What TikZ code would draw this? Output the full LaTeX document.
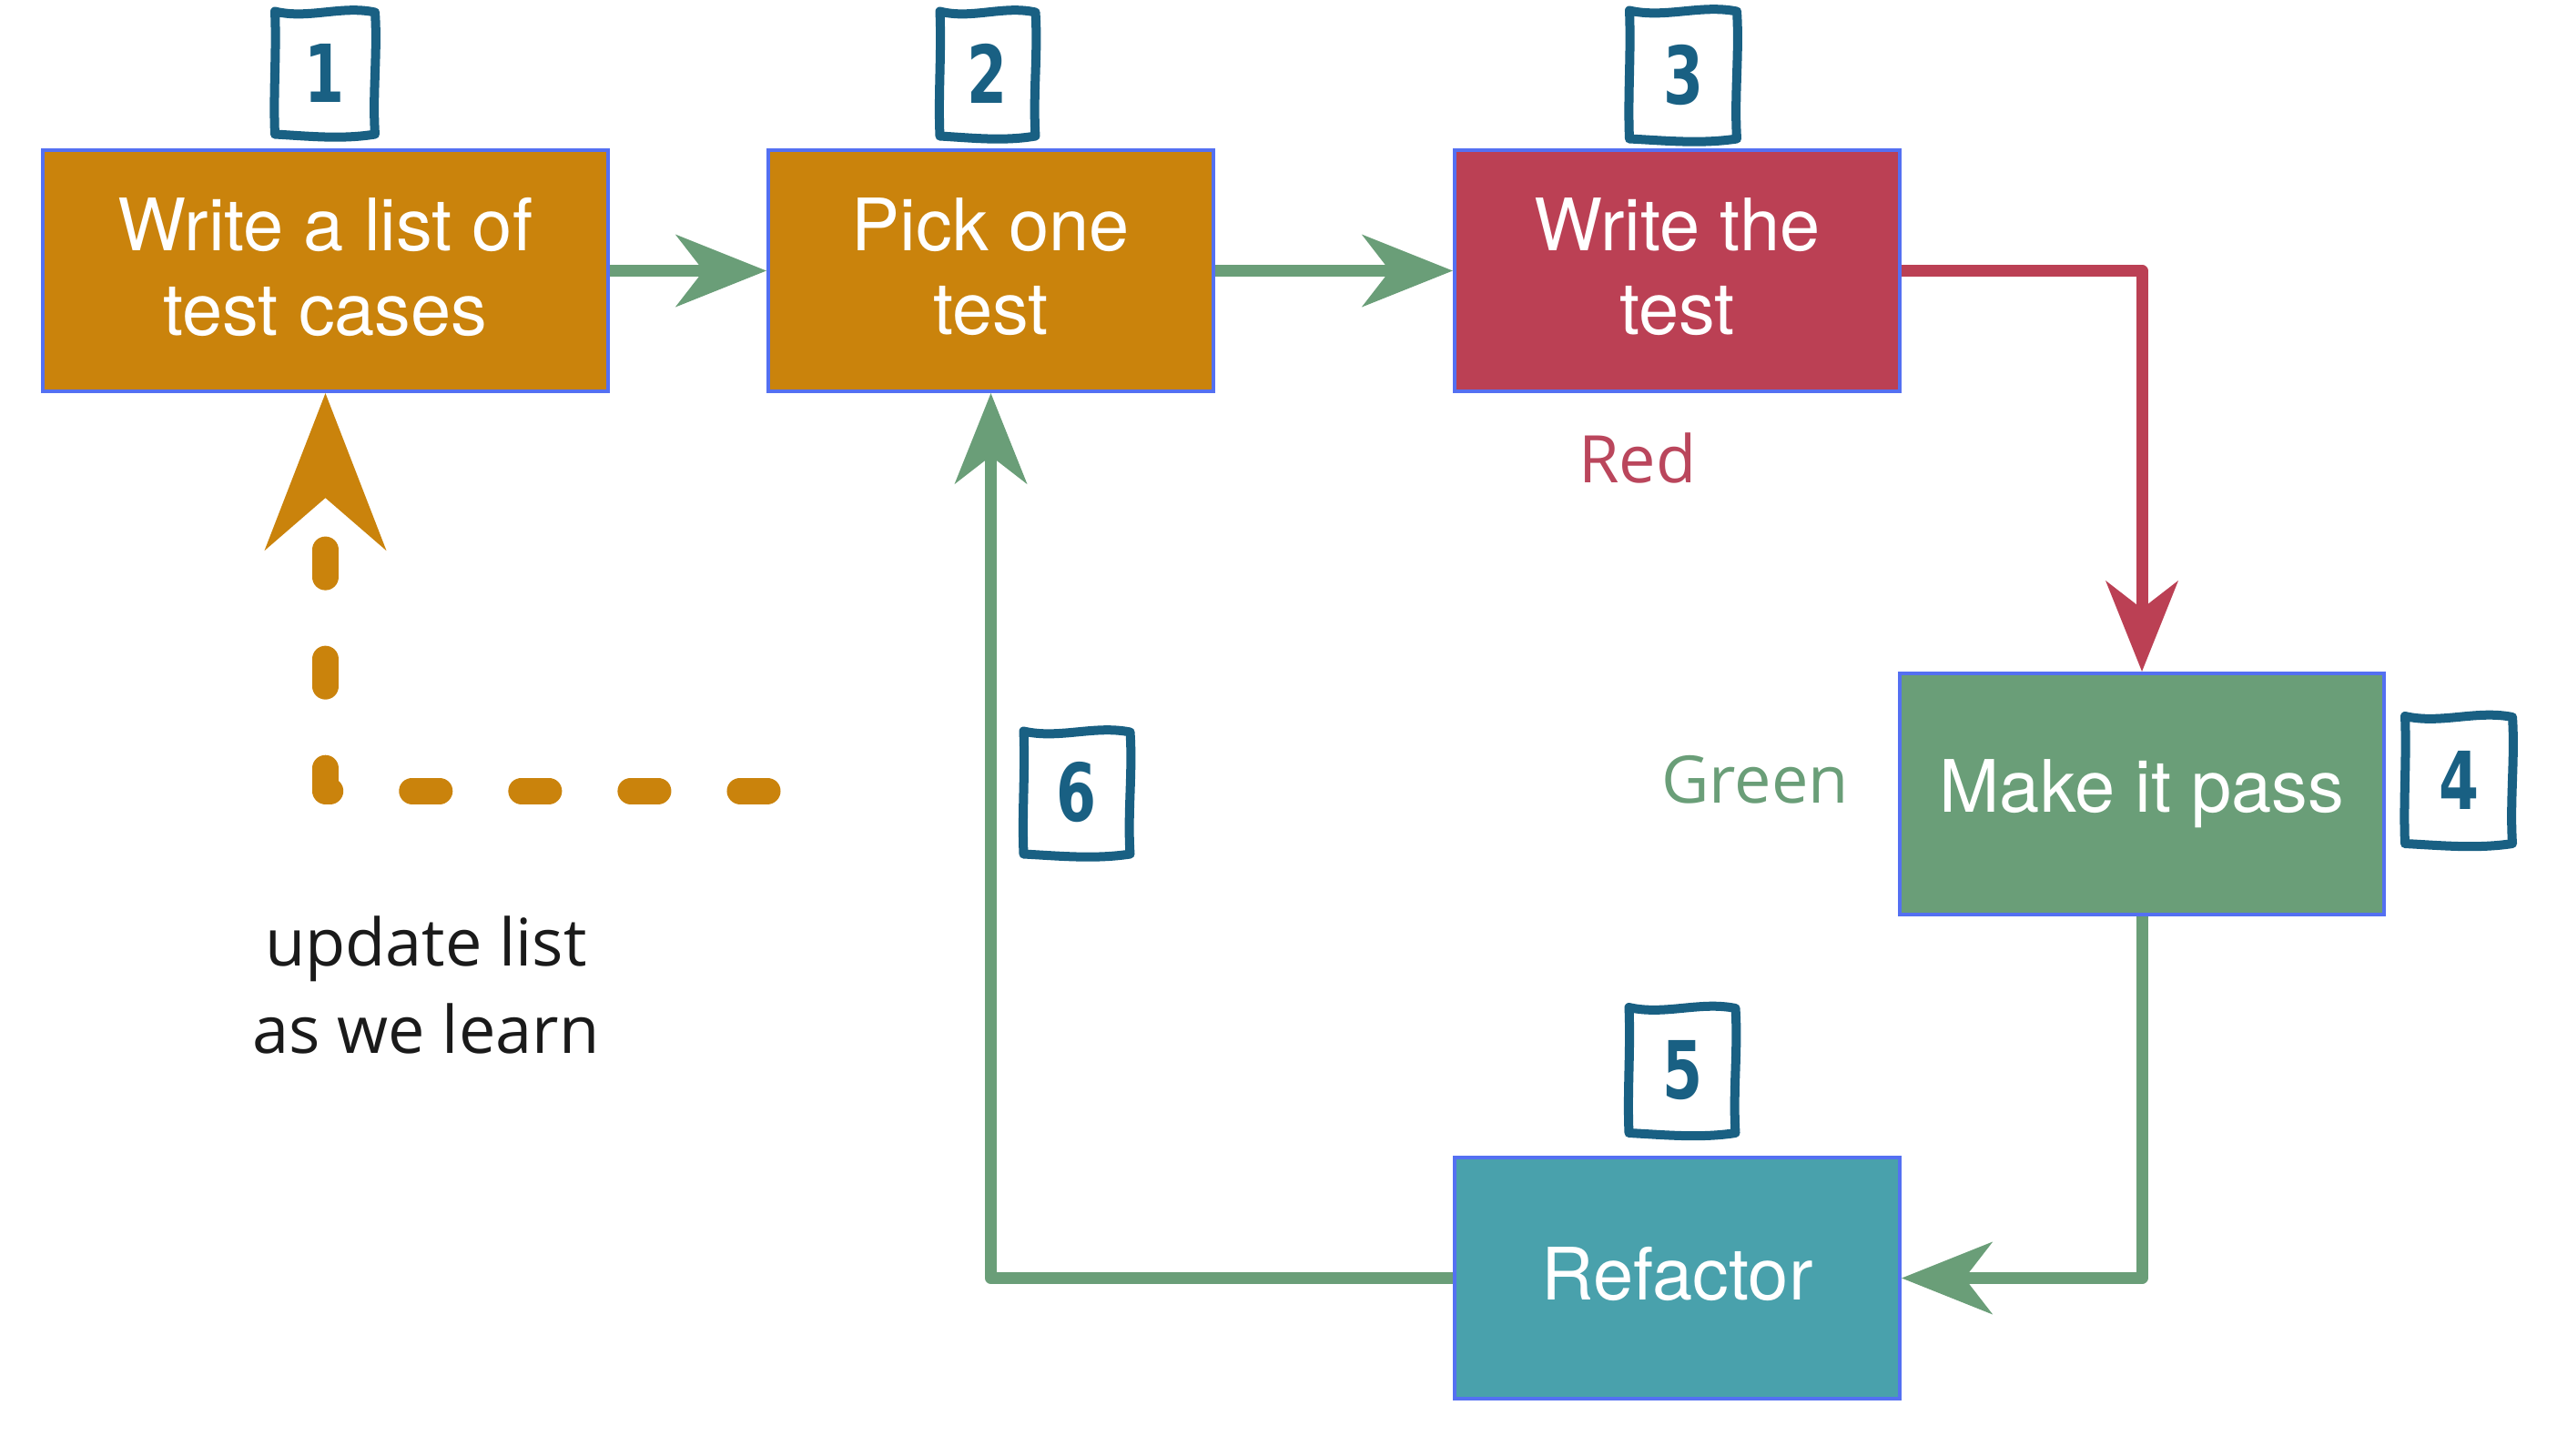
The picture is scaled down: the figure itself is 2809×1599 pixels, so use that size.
\documentclass[tikz,border=0pt]{standalone}
\usepackage{fontspec}
\setmainfont{TeX Gyre Heros}
\newfontfamily\notefont{Open Sans}
\newfontfamily\digitfont{DejaVu Sans}[FakeStretch=0.72]
\usetikzlibrary{arrows.meta}

\definecolor{steporange}{RGB}{202,131,12}
\definecolor{stepred}{RGB}{187,64,84}
\definecolor{stepgreen}{RGB}{106,158,120}
\definecolor{stepteal}{RGB}{73,161,172}
\definecolor{edgeblue}{RGB}{84,112,242}
\definecolor{badgeblue}{RGB}{25,96,131}
\definecolor{notered}{RGB}{186,70,92}
\definecolor{notegreen}{RGB}{106,158,120}
\definecolor{noteblack}{RGB}{26,26,26}

% hand-drawn frame around a step number; #1 = half width, #2 = half height
\tikzset{
  pics/badgeframe/.style 2 args={code={
    \draw[badgeline]
      (-#1,-#2) .. controls (-#1/3,-#2+9) and (#1/3,-#2-7) .. (#1,-#2+1)
      .. controls (#1+3,-#2/3) and (#1-3,#2/3) .. (#1,#2)
      .. controls (#1/3,#2+6) and (-#1/3,#2+2) .. (-#1,#2)
      .. controls (-#1-2,#2/3) and (-#1+2,-#2/3) .. cycle;
  }}
}

\begin{document}
\begin{tikzpicture}[x=0.01cm,y=-0.01cm,
  stepbox/.style={rectangle, draw=edgeblue, line width=0.04cm,
    minimum height=2.65cm, inner sep=0pt, text=white, align=center,
    font=\fontsize{22.6}{26.4}\selectfont},
  badgeline/.style={draw=badgeblue, line width=0.1cm, line join=round, line cap=round},
  badgenum/.style={inner sep=0pt, text=badgeblue, font=\digitfont\bfseries\fontsize{25}{25}\selectfont},
  notetext/.style={inner sep=0pt, align=center, font=\notefont\fontsize{20.5}{27.3}\selectfont},
  flowarrow/.style={line width=0.13cm, line join=round,
    -{Stealth[length=1cm, width=0.8cm, inset=0.31cm, line width=0pt]}},
  greenflow/.style={flowarrow, draw=stepgreen},
  redflow/.style={flowarrow, draw=stepred},
  listflow/.style={draw=steporange, line width=0.29cm, line cap=round, line join=round,
    dash pattern=on 0.3cm off 0.9cm,
    -{Stealth[length=1.73cm, width=1.34cm, inset=0.58cm, line width=0pt]}}
]
\useasboundingbox[fill=white] (0,0) rectangle (2809,1599);

% the five steps of the cycle
\node[stepbox, fill=steporange, minimum width=6.21cm] (list) at (357.5,297.5) {Write a list of\\test cases\rule[-0.1cm]{0pt}{0pt}};
\node[stepbox, fill=steporange, minimum width=4.89cm] (pick) at (1088.5,297.5) {Pick one\\test\rule[-0.1cm]{0pt}{0pt}};
\node[stepbox, fill=stepred, minimum width=4.89cm] (write) at (1842.5,297.5) {Write the\\test\rule[-0.1cm]{0pt}{0pt}};
\node[stepbox, fill=stepgreen, minimum width=5.32cm] (pass) at (2353,872.5) {Make it pass};
\node[stepbox, fill=stepteal, minimum width=4.89cm] (refactor) at (1842.5,1404.5) {Refactor\rule[-0.1cm]{0pt}{0pt}};

% side notes
\node[notetext, text=notered] (rednote) at (1799,503) {Red};
\node[notetext, text=notegreen] (greennote) at (1928,857) {Green};
\node[notetext, text=noteblack] (listnote) at (468,1082) {update list\\as we learn};

% numbered badges
\node[badgenum] (n1) at (357,80) {1};
\pic at (n1.center) {badgeframe={55}{67.5}};
\node[badgenum] (n2) at (1085,81) {2};
\pic at (n2.center) {badgeframe={52.5}{68.5}};
\node[badgenum] (n3) at (1849,82) {3};
\pic at (n3.center) {badgeframe={59}{70.5}};
\node[badgenum] (n4) at (2701,857) {4};
\pic at (n4.center) {badgeframe={59}{70}};
\node[badgenum] (n5) at (1848,1176) {5};
\pic at (n5.center) {badgeframe={58.5}{69}};
\node[badgenum] (n6) at (1183,871) {6};
\pic at (n6.center) {badgeframe={58.5}{67.5}};

% connectors
\draw[greenflow] (list.east) -- (pick.west);
\draw[greenflow] (pick.east) -- (write.west);
\draw[redflow] (write.east) -| (pass.north);
\draw[greenflow] (pass.south) |- (refactor.east);
\draw[greenflow] (refactor.west) -| (pick.south);

% feedback into the list
\coordinate (learn) at (843,869);
\draw[listflow] (learn) -| (list.south);
\end{tikzpicture}
\end{document}
